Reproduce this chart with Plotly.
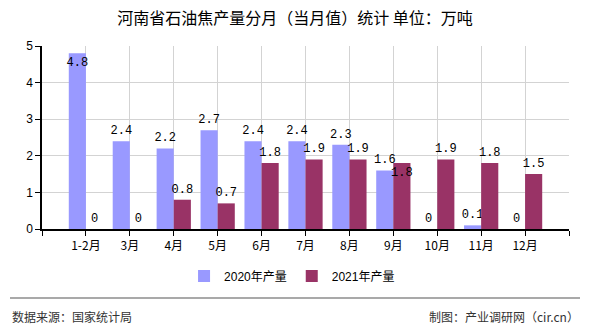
import plotly.graph_objects as go

categories = ["1-2月", "3月", "4月", "5月", "6月", "7月", "8月", "9月", "10月", "11月", "12月"]
series_2020 = [4.8, 2.4, 2.2, 2.7, 2.4, 2.4, 2.3, 1.6, 0, 0.1, 0]
series_2021 = [0, 0, 0.8, 0.7, 1.8, 1.9, 1.9, 1.8, 1.9, 1.8, 1.5]
name_2020 = "2020年产量"
name_2021 = "2021年产量"
y_ticks = [0, 1, 2, 3, 4, 5]
title_text = "河南省石油焦产量分月（当月值）统计 单位：万吨"
source_text = "数据来源：国家统计局"
maker_text = "制图：产业调研网（cir.cn）"

x_idx = list(range(len(categories)))
W, H = 590, 330
L, R, T, B = 42, 569, 46, 229
pw, ph = R - L, B - T

def px(x):
    return (x - L) / pw

def py(y):
    return (B - y) / ph

pos2020 = ["inside" if v >= 4.5 else "outside" for v in series_2020]
pos2021 = ["outside"] * len(series_2021)
pos2021[7] = "inside"

label_font = dict(family="Liberation Mono, DejaVu Sans Mono, monospace", size=12, color="#000000")

fig = go.Figure()
fig.add_trace(go.Bar(
    x=x_idx, y=series_2020, name=name_2020, marker=dict(color="#9999FF", line=dict(width=0)),
    text=[f"{v:g}" for v in series_2020], textposition=pos2020, insidetextanchor="end",
    textangle=0, textfont=label_font, insidetextfont=label_font, outsidetextfont=label_font,
    constraintext="none", cliponaxis=False,
))
fig.add_trace(go.Bar(
    x=x_idx, y=series_2021, name=name_2021, marker=dict(color="#993366", line=dict(width=0)),
    text=[f"{v:g}" for v in series_2021], textposition=pos2021, insidetextanchor="end",
    textangle=0, textfont=label_font, insidetextfont=label_font, outsidetextfont=label_font,
    constraintext="none", cliponaxis=False,
))

tickvals = [-1] + x_idx + [len(categories)]
ticktext = [""] + categories + [""]

fig.update_layout(
    width=W, height=H,
    margin=dict(l=L, r=W - R, t=T, b=H - B, pad=0, autoexpand=False),
    paper_bgcolor="white", plot_bgcolor="white",
    barmode="group", bargap=0.22, bargroupgap=0,
    font=dict(family="Noto Sans CJK SC, sans-serif", size=12, color="#000000"),
    title=dict(text=title_text, x=0.5, xref="container", xanchor="center",
               y=1 - 18 / H, yref="container", yanchor="middle",
               font=dict(size=16, color="#000000")),
    xaxis=dict(
        range=[-1, len(categories)], tickmode="array", tickvals=tickvals, ticktext=ticktext,
        showgrid=True, gridcolor="#D3D3D3", gridwidth=1,
        showline=True, linecolor="#000000", linewidth=1.5,
        ticks="outside", ticklen=5, tickcolor="#000000", tickwidth=1,
        tickfont=dict(family="Noto Sans CJK SC, sans-serif", size=12, color="#000000"),
        zeroline=False, fixedrange=True, automargin=False,
    ),
    yaxis=dict(
        range=[0, 5], tickmode="array", tickvals=y_ticks,
        showgrid=True, gridcolor="#D3D3D3", gridwidth=1,
        showline=True, linecolor="#000000", linewidth=1.5,
        ticks="outside", ticklen=5, tickcolor="#000000", tickwidth=1,
        tickfont=dict(family="Liberation Sans, Arial, sans-serif", size=12, color="#000000"),
        zeroline=False, fixedrange=True, automargin=False,
    ),
    legend=dict(orientation="h", x=0.495, xref="container", xanchor="center",
                y=1 - 276 / H, yref="container", yanchor="middle",
                font=dict(family="Liberation Sans, Noto Sans CJK SC, sans-serif", size=12, color="#000000"),
                itemwidth=30, traceorder="normal"),
    showlegend=True,
)

fig.add_shape(type="line", xref="paper", yref="paper",
              x0=px(10), x1=px(580), y0=py(298), y1=py(298),
              line=dict(color="#8C8C8C", width=1.5))
fig.add_annotation(text=source_text, xref="paper", yref="paper", x=px(10), y=py(316),
                   xanchor="left", yanchor="middle", showarrow=False,
                   font=dict(size=12, color="#333333"))
fig.add_annotation(text=maker_text, xref="paper", yref="paper", x=px(581), y=py(316),
                   xanchor="right", yanchor="middle", showarrow=False,
                   font=dict(size=12, color="#333333"))

fig.write_html("out.html")
